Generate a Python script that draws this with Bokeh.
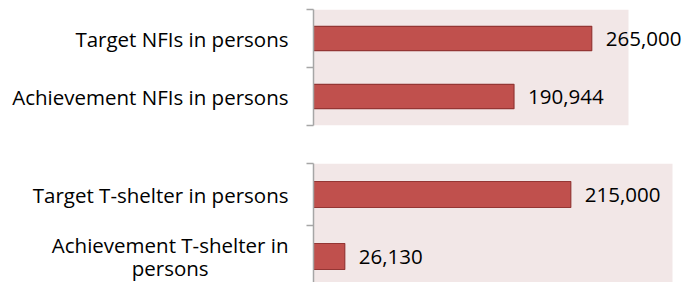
from bokeh.plotting import figure
from bokeh.models import Range1d, FixedTicker, ColumnDataSource, LabelSet, BoxAnnotation
from bokeh.core.properties import value
from bokeh.layouts import column
from bokeh.embed import file_html
from bokeh.resources import INLINE

# data
NBSP = "\u00a0"
nfi_labels = ["Achievement NFIs in persons", "Target NFIs in persons"]
nfi_values = [190944, 265000]
shelter_labels = ["Achievement T-shelter in\npersons" + NBSP * 15, "Target T-shelter in persons"]
shelter_values = [26130, 215000]
x_max = 300000

FONT = "Open Sans"
FSIZE = "20.5px"
BAR = "#c0504d"
BAR_LINE = "#943634"
BG = "#f2e7e7"
AXIS = "#a6a6a6"
LEFT = 313
WIDTH = 685


def panel(labels, values, panel_px, height, border_top, border_bottom, y_low):
    n = len(values)
    frame_px = WIDTH - LEFT
    p = figure(width=WIDTH, height=height, output_backend="svg", toolbar_location=None,
               x_range=Range1d(0, x_max * frame_px / panel_px), y_range=Range1d(y_low, n),
               min_border_left=LEFT, min_border_right=0,
               min_border_top=border_top, min_border_bottom=border_bottom)
    p.background_fill_color = "white"
    p.border_fill_color = "white"
    p.outline_line_color = None
    p.grid.visible = False
    p.xaxis.visible = False
    p.add_layout(BoxAnnotation(left=0, right=x_max, fill_color=BG, fill_alpha=1,
                               line_color=None, level="underlay"))
    pos = [i + 0.5 for i in range(n)]
    src = ColumnDataSource(dict(y=pos, v=values,
                                t=[f"{v:,}" for v in values]))
    p.hbar(y="y", right="v", left=0, height=0.42, source=src,
           fill_color=BAR, line_color=BAR_LINE, line_width=1.2)
    p.add_layout(LabelSet(x="v", y="y", text="t", source=src, x_offset=14,
                          text_baseline="middle", text_font=value(FONT),
                          text_font_size=FSIZE, text_color="black"))
    ax = p.yaxis[0]
    ax.ticker = FixedTicker(ticks=pos, minor_ticks=list(range(n + 1)))
    ax.major_label_overrides = {pp: lab for pp, lab in zip(pos, labels)}
    ax.major_tick_out = 0
    ax.major_tick_in = 0
    ax.minor_tick_out = 7
    ax.minor_tick_in = 0
    ax.minor_tick_line_color = AXIS
    ax.minor_tick_line_width = 1.5
    ax.axis_line_color = AXIS
    ax.axis_line_width = 1.5
    ax.major_label_text_font = FONT
    ax.major_label_text_font_size = FSIZE
    ax.major_label_text_color = "black"
    ax.major_label_text_line_height = 0.85
    ax.major_label_standoff = 18
    return p


top = panel(nfi_labels, nfi_values, 315, 140, 9, 15, 0)
bottom = panel(shelter_labels, shelter_values, 359, 142, 23, 0, 2 - 119 / 62)

layout = column(top, bottom, spacing=0)
open("out.html", "w").write(file_html(layout, INLINE))
